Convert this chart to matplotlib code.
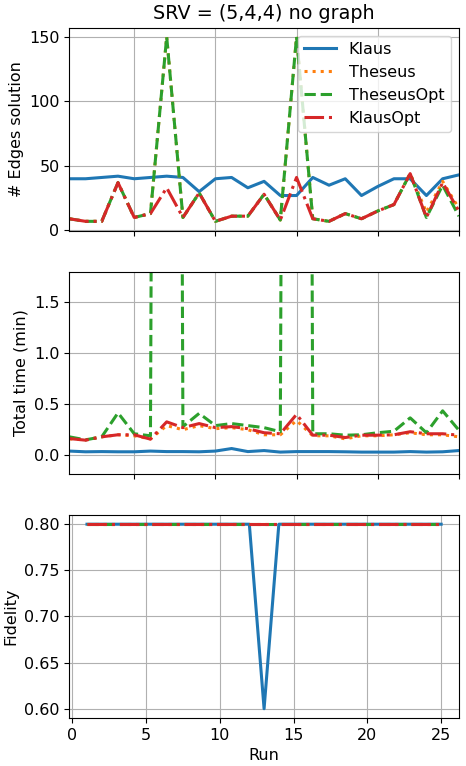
# plot.py
# SRV = (5,4,4) no graph — edges, runtime and fidelity per run

import numpy as np
import matplotlib.pyplot as plt

# ── Data ──────────────────────────────────────────────────────────────────────
runs = np.arange(1, 26)

edges_klaus      = [40, 40, 41, 42, 40, 41, 42, 41, 30, 40, 41, 33, 38,
                    27, 27, 41, 35, 40, 27, 34, 40, 40, 27, 40, 43]
edges_theseus    = [9, 7, 7, 37, 10, 13, 150, 10, 29, 7, 11, 11, 28,
                    8, 150, 9, 7, 13, 9, 15, 20, 44, 14, 38, 17]
edges_theseusopt = [9, 7, 7, 37, 10, 13, 150, 10, 29, 7, 11, 11, 28,
                    8, 150, 9, 7, 13, 9, 15, 20, 44, 10, 35, 11]
edges_klausopt   = [9, 7, 7, 37, 10, 13, 33, 10, 29, 7, 11, 11, 28,
                    8, 41, 9, 7, 13, 9, 15, 20, 44, 10, 37, 15]

time_klaus      = [0.04, 0.033, 0.035, 0.033, 0.033, 0.04, 0.035, 0.035, 0.033, 0.04,
                   0.065, 0.035, 0.045, 0.03, 0.035, 0.035, 0.035, 0.033, 0.03, 0.03,
                   0.03, 0.035, 0.03, 0.033, 0.045]
time_theseus    = [0.16, 0.15, 0.18, 0.20, 0.19, 0.16, 0.29, 0.25, 0.29, 0.26,
                   0.27, 0.25, 0.20, 0.20, 0.34, 0.19, 0.19, 0.16, 0.19, 0.19,
                   0.20, 0.22, 0.20, 0.20, 0.18]
time_theseusopt = [0.18, 0.15, 0.18, 0.415, 0.21, 0.19, 40.0, 0.28, 0.41, 0.29,
                   0.31, 0.29, 0.27, 0.23, 40.0, 0.21, 0.21, 0.196, 0.20, 0.22,
                   0.235, 0.366, 0.22, 0.435, 0.245]
time_klausopt   = [0.163, 0.147, 0.18, 0.20, 0.20, 0.157, 0.327, 0.27, 0.31, 0.27,
                   0.28, 0.26, 0.22, 0.21, 0.40, 0.196, 0.196, 0.173, 0.196, 0.196,
                   0.20, 0.23, 0.21, 0.21, 0.196]

fid_klaus      = [0.8] * 12 + [0.6] + [0.8] * 12
fid_theseus    = [0.8] * 25
fid_theseusopt = [0.8] * 25
fid_klausopt   = [0.8] * 25

labels = ['Klaus', 'Theseus', 'TheseusOpt', 'KlausOpt']

# ── Style ─────────────────────────────────────────────────────────────────────
plt.rcParams['font.size'] = 11.5
styles = [dict(color='tab:blue',   linestyle='-'),
          dict(color='tab:orange', linestyle=':'),
          dict(color='tab:green',  linestyle='--'),
          dict(color='tab:red',    linestyle='-.')]
LW = 2.2

# ── Figure ────────────────────────────────────────────────────────────────────
fig = plt.figure(figsize=(4.66, 7.66), dpi=100)
ax1 = fig.add_axes([0.1487, 0.699, 0.836, 0.265])
ax2 = fig.add_axes([0.1487, 0.3812, 0.836, 0.264], sharex=ax1)
ax3 = fig.add_axes([0.1487, 0.0627, 0.836, 0.265])

edges = [edges_klaus, edges_theseus, edges_theseusopt, edges_klausopt]
times = [time_klaus, time_theseus, time_theseusopt, time_klausopt]
fids  = [fid_klaus, fid_theseus, fid_theseusopt, fid_klausopt]

for lab, st, e, t, f in zip(labels, styles, edges, times, fids):
    ax1.plot(runs, e, linewidth=LW, label=lab, **st)
    ax2.plot(runs, t, linewidth=LW, label=lab, **st)
    ax3.plot(runs, f, linewidth=LW, label=lab, **st)

ax1.set_title('SRV = (5,4,4) no graph')
ax1.set_ylabel('# Edges solution')
ax1.legend(loc='upper right')
ax1.set_xlim(1, 25)
ax1.set_ylim(-0.15, 157.15)
ax1.set_yticks([0, 50, 100, 150])
ax1.tick_params(labelbottom=False)

ax2.set_ylabel('Total time (min)')
ax2.set_ylim(-0.185, 1.8)
ax2.set_yticks([0.0, 0.5, 1.0, 1.5])
ax2.tick_params(labelbottom=False)

ax3.set_ylabel('Fidelity')
ax3.set_xlabel('Run')
ax3.set_xticks([0, 5, 10, 15, 20, 25])

for ax in (ax1, ax2, ax3):
    ax.grid(True)

plt.savefig('out.png', dpi=100)
